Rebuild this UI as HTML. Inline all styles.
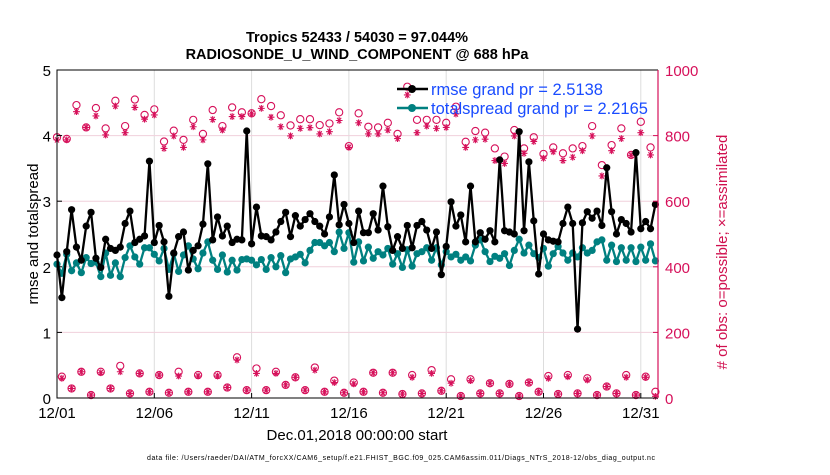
<!DOCTYPE html>
<html><head><meta charset="utf-8"><style>
body{margin:0;background:#fff;}
svg text{font-family:"Liberation Sans",sans-serif;}
</style></head><body>
<svg id="chart" width="830" height="470" xmlns="http://www.w3.org/2000/svg">
<rect width="830" height="470" fill="#fff"/>
<text x="357" y="42" text-anchor="middle" font-size="14.5" font-weight="bold">Tropics 52433 / 54030 = 97.044%</text>
<text x="357" y="59" text-anchor="middle" font-size="14.5" font-weight="bold">RADIOSONDE_U_WIND_COMPONENT @ 688 hPa</text>
<g id="grid"></g>
<g id="obs"></g>
<g id="series"></g>
<g id="axes"></g>
<text transform="translate(38,234) rotate(-90)" text-anchor="middle" font-size="15">rmse and totalspread</text>
<text transform="translate(727,252) rotate(-90)" text-anchor="middle" font-size="15" fill="#d0104f">#  of obs: o=possible; ×=assimilated</text>
<text x="357" y="440" text-anchor="middle" font-size="15">Dec.01,2018 00:00:00 start</text>
<text x="401" y="460" text-anchor="middle" font-size="7" textLength="508">data file: /Users/raeder/DAI/ATM_forcXX/CAM6_setup/f.e21.FHIST_BGC.f09_025.CAM6assim.011/Diags_NTrS_2018-12/obs_diag_output.nc</text>
<g id="legend">
<line x1="397" y1="89" x2="428" y2="89" stroke="#000" stroke-width="2.5"/>
<circle cx="412" cy="89" r="4" fill="#000"/>
<text x="431" y="95" font-size="16.5" fill="#1a4cff">rmse grand pr = 2.5138</text>
<line x1="397" y1="108" x2="428" y2="108" stroke="#008080" stroke-width="2.5"/>
<circle cx="412" cy="108" r="4" fill="#008080"/>
<text x="431" y="114" font-size="16.5" fill="#1a4cff">totalspread grand pr = 2.2165</text>
</g>
</svg>
<script>
const rmse=[2.18,1.53,2.23,2.87,2.30,2.10,2.62,2.83,2.13,1.99,2.42,2.28,2.25,2.30,2.66,2.85,2.37,2.42,2.47,3.61,2.37,2.63,2.38,1.55,2.21,2.46,2.53,1.95,2.25,2.32,2.65,3.57,
2.41,2.76,2.47,2.62,2.37,2.42,2.41,4.07,2.35,2.91,2.47,2.46,2.41,2.53,2.69,2.83,2.46,2.78,2.62,2.72,2.81,2.69,2.62,2.50,2.76,3.40,2.64,2.95,2.66,2.37,2.85,
2.52,2.52,2.81,2.56,3.23,2.61,2.25,2.46,2.28,2.63,2.29,2.63,2.69,2.56,2.28,2.53,1.88,2.31,2.99,2.62,2.79,2.38,3.23,2.38,2.52,2.42,2.55,2.38,3.63,2.55,2.53,
2.50,4.06,2.55,3.60,2.70,1.89,2.50,2.41,2.39,2.38,2.66,2.91,2.66,1.05,2.67,2.84,2.74,2.85,2.63,3.51,2.84,2.50,2.72,2.66,2.53,3.74,2.58,2.69,2.58,2.95];
const spread=[2.04,1.90,2.19,1.94,2.06,1.91,2.14,2.05,2.07,1.85,2.21,1.87,2.06,1.85,2.14,2.32,2.15,2.04,2.29,2.29,2.19,2.09,2.28,1.96,2.20,1.93,2.18,2.32,2.12,1.97,2.21,2.38,
2.10,1.96,2.18,1.92,2.10,1.95,2.11,2.12,2.10,2.03,2.11,1.96,2.14,2.00,2.17,1.91,2.12,2.15,2.19,2.06,2.25,2.37,2.37,2.32,2.37,2.23,2.53,2.28,2.52,2.07,2.38,
2.09,2.30,2.13,2.23,2.18,2.28,2.04,2.20,1.99,2.26,2.01,2.20,2.23,2.29,2.10,2.29,2.03,2.23,2.15,2.19,2.10,2.15,2.09,2.33,2.41,2.23,2.08,2.16,2.13,2.20,2.02,
2.25,2.42,2.21,2.33,2.20,2.14,2.28,2.01,2.20,2.31,2.21,2.10,2.21,2.15,2.29,2.21,2.25,2.38,2.41,2.10,2.33,2.08,2.29,2.10,2.29,2.08,2.30,2.10,2.35,2.09];
const possible=[795,65,790,29,893,80,825,9,884,80,822,29,906,98,829,14,910,75,863,19,880,70,782,16,815,80,787,19,848,70,805,19,
878,70,829,32,886,124,871,24,868,90,911,24,890,80,862,40,831,63,850,24,850,93,832,19,837,53,871,16,768,47,868,
19,827,77,825,16,839,77,805,12,949,70,848,14,848,85,848,22,839,57,888,6,781,57,814,14,809,45,761,14,736,43,
817,6,761,47,795,19,744,67,764,12,746,70,761,14,768,60,829,9,710,35,771,14,822,70,741,9,842,65,764,19];
const assimilated=[787,60,787,29,873,80,825,9,860,77,802,29,890,80,809,14,886,75,850,19,863,70,761,16,799,67,764,19,827,67,787,19,
849,67,817,32,858,116,858,24,866,75,883,24,856,75,827,40,799,63,822,24,824,85,805,19,812,47,846,16,764,43,839,
19,805,77,805,16,817,77,791,12,924,63,809,14,829,75,822,22,825,45,866,6,764,53,787,14,789,45,724,14,715,43,
799,6,746,47,782,19,731,60,751,12,724,65,734,14,754,55,799,9,677,35,754,14,791,63,740,9,809,63,741,5];
const yTicks=[0,1,2,3,4,5];
const y2Ticks=[0,200,400,600,800,1000];
const xTickDays=[0,5,10,15,20,25,30];
const xTickLabels=["12/01","12/06","12/11","12/16","12/21","12/26","12/31"];
const stepDays=0.25;

const L=57,R=658,T=70,B=398,dayPx=19.46;
const NS="http://www.w3.org/2000/svg";
const xs=d=>L+d*dayPx;
const ys=v=>B-(v/5)*(B-T);
const y2=v=>B-(v/1000)*(B-T);
function mk(tag,attrs,parent){const e=document.createElementNS(NS,tag);for(const k in attrs)e.setAttribute(k,attrs[k]);parent.appendChild(e);return e;}
const grid=document.getElementById('grid'),obs=document.getElementById('obs'),ser=document.getElementById('series'),ax=document.getElementById('axes');
const crim="#d6105a";
xTickDays.forEach((d,i)=>{
 const g=mk('line',{x1:xs(d),x2:xs(d),y1:T,y2:B,stroke:"#ddd","stroke-width":1},grid);
 
 
 const t=mk('text',{x:xs(d),y:418,"text-anchor":"middle","font-size":15},ax);t.textContent=xTickLabels[i];
 
 
 mk('line',{x1:xs(d),x2:xs(d),y1:B,y2:B-5,stroke:"#000"},ax);
});
yTicks.forEach(v=>{
 const g=mk('line',{x1:L,x2:R,y1:ys(v),y2:ys(v),stroke:"#f0d0dc","stroke-width":1},grid);
 
 
 const t=mk('text',{x:L-6,y:ys(v)+6,"text-anchor":"end","font-size":15},ax);t.textContent=v;
 
 
 mk('line',{x1:L,x2:L+5,y1:ys(v),y2:ys(v),stroke:"#000"},ax);
});
y2Ticks.forEach(v=>{
 const t=mk('text',{x:R+7,y:y2(v)+6,"font-size":15,fill:crim},ax);t.textContent=v;
 
 
 mk('line',{x1:R,x2:R-5,y1:y2(v),y2:y2(v),stroke:crim},ax);
});
mk('path',{d:`M${R},${T}H${L}V${B}H${R}`,fill:"none",stroke:"#000","stroke-width":1},ax);
const ra=mk('line',{x1:R,x2:R,y1:T,y2:B,stroke:crim,"stroke-width":1.2},ax);


possible.forEach((v,i)=>{
 const x=xs(i*stepDays);
 const c=mk('circle',{cx:x,cy:y2(v),r:3.6,fill:"none",stroke:crim,"stroke-width":1.1},obs);
 
 
});
assimilated.forEach((v,i)=>{
 const x=xs(i*stepDays),y=y2(v),s=3.4;
 const p=mk('path',{d:`M${x-s},${y}H${x+s}M${x-s*0.6},${y-s*0.8}L${x+s*0.6},${y+s*0.8}M${x+s*0.6},${y-s*0.8}L${x-s*0.6},${y+s*0.8}M${x},${y-s}V${y+s}`,stroke:crim,"stroke-width":1.1,fill:"none"},obs);
 
 
});
function drawSeries(arr,color,name){
 const d=arr.map((v,i)=>(i?'L':'M')+xs(i*stepDays)+','+ys(v)).join('');
 const l=mk('path',{d:d,fill:"none",stroke:color,"stroke-width":2.3,"stroke-linejoin":"round"},ser);
 
 
 arr.forEach((v,i)=>{
  const c=mk('circle',{cx:xs(i*stepDays),cy:ys(v),r:3.6,fill:color},ser);
  
  
 });
}
drawSeries(spread,"#008080","totalspread");
drawSeries(rmse,"#000","rmse");
</script>
</body></html>
